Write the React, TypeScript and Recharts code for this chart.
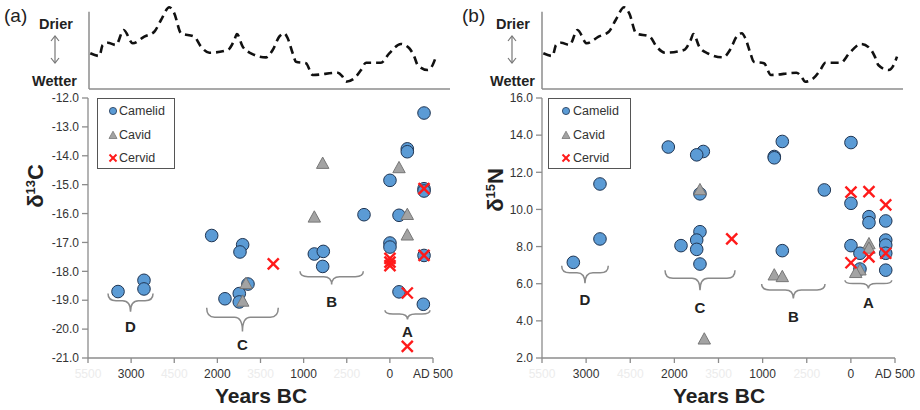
import React from "react";
import {
  ScatterChart,
  Scatter,
  XAxis,
  YAxis,
  ReferenceArea,
  LineChart,
  Line,
  ReferenceLine,
} from "recharts";

const FONT = '"Liberation Sans", Arial, Helvetica, sans-serif';

// dryness curve (relative units)
const climateYears = [
  -3485, -3381, -3341, -3283, -3187, -3098, -2993, -2859, -2743, -2665, -2569, -2511,
  -2433, -2279, -2201, -2105, -1892, -1815, -1784, -1718, -1622, -1448, -1370, -1294,
  -1236, -1196, -1138, -1100, -984, -906, -617, -559, -520, -424, -346, -288, -115, -18,
  117, 214, 272, 311, 427, 485, 523,
];
const climateIndex = [
  42.5, 39.3, 52.4, 55.1, 52.4, 70.2, 54.4, 62.3, 68.2, 82.1, 97.3, 90.1, 66.3, 62.3,
  50.4, 43.2, 46.4, 58.3, 65.5, 50.4, 42.5, 37.7, 46.4, 62.3, 66.3, 60.4, 42.5, 32.5,
  30.6, 16.7, 19.4, 14.6, 8.7, 12.7, 22.6, 31.3, 31.3, 42.5, 53.6, 48.5, 38.5, 28.6,
  22.6, 28.6, 38.5,
];

// x axis: calendar year (negative = BC)
const xTicks = [-3500, -3000, -2500, -2000, -1500, -1000, -500, 0, 500];
const xTickLabels = ["5500", "3000", "4500", "2000", "3500", "1000", "2500", "0", "AD 500"];
const ghostTicks = [-3500, -2500, -1500, -500];

const carbonTicks = [-21, -20, -19, -18, -17, -16, -15, -14, -13, -12];
const nitrogenTicks = [2, 4, 6, 8, 10, 12, 14, 16];

// δ13C
const camelidC = [
  [-3152, -18.7], [-2851, -18.31], [-2851, -18.61],
  [-2066, -16.76], [-1707, -17.08], [-1738, -17.33], [-1912, -18.95], [-1746, -18.77],
  [-1645, -18.44], [-1746, -19.06],
  [-300, -16.04], [-876, -17.4], [-772, -17.31], [-779, -17.83],
  [1, -17.02], [1, -17.16], [106, -18.71], [388, -19.14], [396, -12.52], [202, -13.76],
  [202, -13.86], [1, -14.85], [396, -15.14], [396, -15.22], [106, -16.06], [396, -17.45],
];
const cavidC = [
  [-1668, -18.43], [-1706, -19.04], [-779, -14.27], [-876, -16.13], [106, -14.42],
  [202, -16.04], [202, -16.75],
];
const cervidC = [
  [-1352, -17.74], [1, -17.55], [1, -17.68], [1, -17.8], [202, -18.75], [202, -20.6],
  [396, -15.14], [396, -17.45],
];

// δ15N
const camelidN = [
  [-3145, 7.15], [-2843, 8.41], [-2843, 11.37],
  [-2069, 13.36], [-1925, 8.05], [-1672, 13.12], [-1747, 12.94], [-1710, 10.84],
  [-1710, 8.8], [-1747, 8.35], [-1747, 7.85], [-1710, 7.06],
  [-777, 13.66], [-868, 12.85], [-868, 12.78], [-777, 7.78], [-301, 11.05],
  [1, 13.6], [1, 10.33], [205, 9.61], [205, 9.29], [395, 9.38], [1, 8.05], [103, 7.64],
  [395, 8.35], [395, 8.08], [395, 7.64], [103, 6.79], [395, 6.73],
];
const cavidN = [
  [-1710, 11.05], [-1661, 3.01], [-868, 6.46], [-777, 6.37], [205, 8.14], [205, 7.9],
  [103, 6.73], [55, 6.59],
];
const cervidN = [
  [-1350, 8.41], [1, 10.93], [205, 10.96], [395, 10.24], [395, 7.64], [1, 7.13], [205, 7.45],
];

// period groupings (brace extent + letter)
const bracesC = [
  { id: "D", x1: -3268, x2: -2746, top: -18.77, tip: -19.4, labelY: -19.92 },
  { id: "C", x1: -2124, x2: -1294, top: -19.26, tip: -20.08, labelY: -20.54 },
  { id: "B", x1: -1042, x2: -308, top: -18.0, tip: -18.46, labelY: -19.05 },
  { id: "A", x1: -57, x2: 465, top: -19.35, tip: -19.67, labelY: -20.09 },
];
const bracesN = [
  { id: "D", x1: -3277, x2: -2749, top: 6.97, tip: 6.02, labelY: 5.15 },
  { id: "C", x1: -2106, x2: -1313, top: 6.73, tip: 5.65, labelY: 4.74 },
  { id: "B", x1: -1011, x2: -293, top: 5.98, tip: 5.2, labelY: 4.21 },
  { id: "A", x1: -67, x2: 463, top: 6.19, tip: 5.74, labelY: 5.0 },
];

const climate = climateYears.map((x, i) => ({ x, v: climateIndex[i] }));
const pts = (a: number[][]) => a.map(([x, y]) => ({ x, y }));

const AXIS = "#8c8c8c";

const Dot = (p: any) => (
  <circle cx={p.cx} cy={p.cy} r={6.3} fill="#5b9bd5" stroke="#1f3553" strokeWidth={1} />
);
const Tri = (p: any) => (
  <polygon
    points={`${p.cx},${p.cy - 6.5} ${p.cx + 6.2},${p.cy + 4.8} ${p.cx - 6.2},${p.cy + 4.8}`}
    fill="#a3a3a3"
    stroke="#777"
    strokeWidth={1}
  />
);
const Cross = (p: any) => (
  <g stroke="#ff1a1a" strokeWidth={2.4}>
    <line x1={p.cx - 5.5} y1={p.cy - 5.5} x2={p.cx + 5.5} y2={p.cy + 5.5} />
    <line x1={p.cx - 5.5} y1={p.cy + 5.5} x2={p.cx + 5.5} y2={p.cy - 5.5} />
  </g>
);

const Brace = (p: any) => {
  const x1 = p.x;
  const x2 = p.x + p.width;
  const top = p.y;
  const tip = p.y + p.height;
  const cx = (x1 + x2) / 2;
  const mid = top + (tip - top) * 0.4;
  const r = 8;
  const d = `M${x1},${top} Q${x1},${mid} ${x1 + r},${mid} L${cx - r},${mid} Q${cx},${mid} ${cx},${tip} Q${cx},${mid} ${cx + r},${mid} L${x2 - r},${mid} Q${x2},${mid} ${x2},${top}`;
  return <path d={d} fill="none" stroke="#8a8a8a" strokeWidth={1.5} />;
};

const BraceLabel = (p: any) => (
  <text
    x={p.cx}
    y={p.cy}
    dy={5.5}
    textAnchor="middle"
    fontFamily={FONT}
    fontWeight="bold"
    fontSize={15}
    fill="#222"
  >
    {(p.payload && p.payload.id) || p.id}
  </text>
);

const XTick = (p: any) => {
  const v = p.payload.value;
  return (
    <text
      x={p.x}
      y={p.y}
      dy={8.5}
      textAnchor="middle"
      fontFamily={FONT}
      fontSize={12}
      fill={ghostTicks.includes(v) ? "#ececec" : "#333"}
    >
      {xTickLabels[xTicks.indexOf(v)]}
    </text>
  );
};

const LegendIcon = ({ kind }: { kind: string }) => (
  <svg width={10} height={10} style={{ display: "block" }}>
    {kind === "c" && <circle cx={5} cy={5} r={3.6} fill="#5b9bd5" stroke="#1f3553" strokeWidth={0.8} />}
    {kind === "t" && <polygon points="5,1.2 9,8.5 1,8.5" fill="#a3a3a3" stroke="#777" strokeWidth={0.8} />}
    {kind === "x" && (
      <g stroke="#ff1a1a" strokeWidth={2}>
        <line x1={1.5} y1={1.5} x2={8.5} y2={8.5} />
        <line x1={1.5} y1={8.5} x2={8.5} y2={1.5} />
      </g>
    )}
  </svg>
);

function Panel(cfg: any) {
  const boldText = { fontFamily: FONT, fontWeight: "bold" as const, color: "#222" };
  const labels = cfg.braces.map((b: any) => ({ x: (b.x1 + b.x2) / 2, y: b.labelY, id: b.id }));
  return (
    <div style={{ position: "absolute", left: cfg.offset, top: 0, width: 460, height: 410 }}>
      <div style={{ position: "absolute", left: cfg.tagX, top: 5, fontFamily: FONT, fontSize: 19, lineHeight: "22px", color: "#222" }}>
        {cfg.tag}
      </div>
      <div style={{ ...boldText, position: "absolute", left: cfg.drierX, top: 15, fontSize: 14.5, lineHeight: "18px" }}>Drier</div>
      <div style={{ ...boldText, position: "absolute", left: cfg.wetterX, top: 72, fontSize: 14.5, lineHeight: "18px" }}>Wetter</div>
      <svg style={{ position: "absolute", left: 0, top: 0 }} width={120} height={90}>
        <g stroke="#777" strokeWidth={1.2} fill="none">
          <line x1={cfg.arrowX} y1={36} x2={cfg.arrowX} y2={63} />
          <polyline points={`${cfg.arrowX - 4},${41} ${cfg.arrowX},${36} ${cfg.arrowX + 4},${41}`} />
          <polyline points={`${cfg.arrowX - 4},${58} ${cfg.arrowX},${63} ${cfg.arrowX + 4},${58}`} />
        </g>
      </svg>

      <div style={{ position: "absolute", left: 0, top: 0 }}>
        <LineChart width={460} height={95} data={climate} margin={{ top: 5, right: cfg.topRight, bottom: 6, left: cfg.topLeft }}>
          <XAxis dataKey="x" type="number" domain={[-3500, cfg.topMax]} hide />
          <YAxis type="number" domain={[0, 100]} hide />
          <ReferenceLine y={0} stroke={AXIS} strokeWidth={1.5} />
          <ReferenceLine segment={[{ x: -3500, y: 0 }, { x: -3500, y: 92 }]} stroke={AXIS} strokeWidth={1.5} />
          <Line dataKey="v" type="monotone" stroke="#111" strokeWidth={2.6} strokeDasharray="8 5" dot={false} isAnimationActive={false} />
        </LineChart>
      </div>

      <div style={{ position: "absolute", left: 0, top: 90 }}>
        <ScatterChart width={460} height={320} margin={{ top: 8, right: cfg.mr, bottom: 22, left: cfg.ml }}>
          <XAxis
            dataKey="x"
            type="number"
            domain={[-3500, 500]}
            ticks={xTicks}
            interval={0}
            tick={<XTick />}
            tickSize={5}
            tickMargin={6}
            height={30}
            stroke={AXIS}
            strokeWidth={1.3}
          />
          <YAxis
            dataKey="y"
            type="number"
            domain={cfg.yDomain}
            ticks={cfg.yTicks}
            interval={0}
            width={50}
            tickSize={6}
            tickMargin={3}
            tickFormatter={(v: number) => v.toFixed(1)}
            tick={{ fontFamily: FONT, fontSize: 12, fill: "#333" }}
            stroke={AXIS}
            strokeWidth={1.3}
          />
          {cfg.braces.map((b: any) => (
            <ReferenceArea key={b.id} x1={b.x1} x2={b.x2} y1={b.tip} y2={b.top} shape={(p: any) => <Brace {...p} />} />
          ))}
          <Scatter data={labels} shape={BraceLabel} isAnimationActive={false} />
          <Scatter data={pts(cfg.camelid)} shape={Dot} isAnimationActive={false} />
          <Scatter data={pts(cfg.cavid)} shape={Tri} isAnimationActive={false} />
          <Scatter data={pts(cfg.cervid)} shape={Cross} isAnimationActive={false} />
        </ScatterChart>
      </div>

      <div
        style={{
          position: "absolute",
          left: cfg.legend.left,
          top: 98,
          width: cfg.legend.w,
          height: 71,
          border: "1px solid #555",
          boxSizing: "border-box",
          background: "#fff",
        }}
      >
        {[
          ["c", "Camelid"],
          ["t", "Cavid"],
          ["x", "Cervid"],
        ].map(([k, name], i) => (
          <div key={k} style={{ position: "absolute", left: cfg.legend.mx - 5, top: 12 + i * 23.5 - 9, height: 18, display: "flex", alignItems: "center" }}>
            <LegendIcon kind={k} />
            <span style={{ fontFamily: FONT, fontSize: 12.5, color: "#333", marginLeft: cfg.legend.tx - cfg.legend.mx - 5 }}>{name}</span>
          </div>
        ))}
      </div>

      <div
        style={{
          ...boldText,
          position: "absolute",
          left: cfg.yLabelX - 40,
          top: cfg.yLabelY - 13,
          width: 80,
          height: 26,
          lineHeight: "26px",
          textAlign: "center",
          fontSize: 22,
          transform: "rotate(-90deg)",
        }}
      >
        δ<sup style={{ fontSize: 13, lineHeight: 0 }}>{cfg.iso}</sup>
        {cfg.el}
      </div>

      <div
        style={{
          ...boldText,
          position: "absolute",
          left: cfg.titleX - 100,
          top: 384,
          width: 200,
          textAlign: "center",
          fontSize: 21,
          lineHeight: "24px",
        }}
      >
        Years BC
      </div>
    </div>
  );
}

export default function App() {
  return (
    <div style={{ position: "absolute", left: 0, top: 0, width: 920, height: 410, background: "#fff" }}>
      <Panel
        offset={0}
        tag="(a)"
        iso="13"
        el="C"
        yDomain={[-21, -12]}
        yTicks={carbonTicks}
        camelid={camelidC}
        cavid={cavidC}
        cervid={cervidC}
        braces={bracesC}
        topLeft={89}
        topRight={10}
        topMax={686}
        ml={38}
        mr={27}
        legend={{ left: 97, w: 78, mx: 14.7, tx: 21 }}
        tagX={4}
        drierX={39}
        wetterX={32}
        arrowX={55}
        yLabelX={35.5}
        yLabelY={186}
        titleX={261}
      />
      <Panel
        offset={460}
        tag="(b)"
        iso="15"
        el="N"
        yDomain={[2, 16]}
        yTicks={nitrogenTicks}
        camelid={camelidN}
        cavid={cavidN}
        cervid={cervidN}
        braces={bracesN}
        topLeft={82}
        topRight={17}
        topMax={591}
        ml={32}
        mr={25}
        legend={{ left: 88, w: 83, mx: 17.3, tx: 24 }}
        tagX={2}
        drierX={36}
        wetterX={30}
        arrowX={52}
        yLabelX={35.5}
        yLabelY={190}
        titleX={259}
      />
    </div>
  );
}
